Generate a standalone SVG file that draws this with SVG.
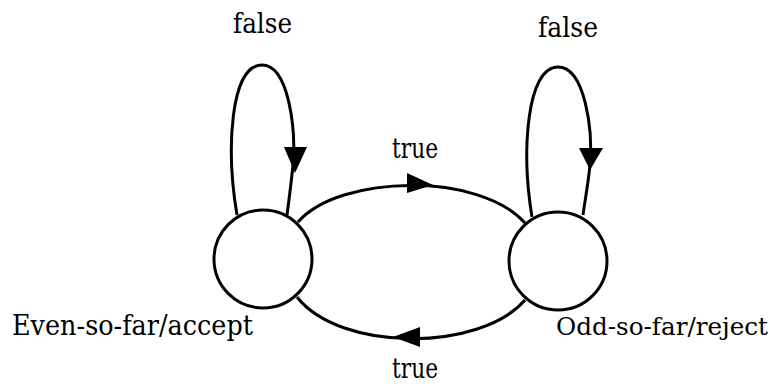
<svg xmlns="http://www.w3.org/2000/svg" width="776" height="384" viewBox="0 0 776 384">
<style>
.st{fill:#fff;stroke:#000;stroke-width:3}
.ln{fill:none;stroke:#000;stroke-width:3}
.ah{fill:#000;stroke:none}
</style>
<rect width="776" height="384" fill="#fff"/>
<g font-family="DejaVu Serif, Liberation Serif, serif" font-size="27" fill="#000">
<g id="connectors">
<path class="ln" d="M237,215 C 226,150 230,65 262,65 C 289,65 296,130 293,165 C 291,185 289,200 287,215"/>
<polygon class="ah" points="284,147 307,147 295,173"/>
<path class="ln" d="M532,217 C 521,150 527,67 558,67 C 585,67 593,130 590,165 C 588,185 585,200 583,215"/>
<polygon class="ah" points="579,148 603,148 590,170"/>
<path class="ln" d="M298,222 C 340,174 480,172 525,223"/>
<polygon class="ah" points="407,173 407,193 433,185"/>
<path class="ln" d="M297,297 C 340,352 480,352 525,300"/>
<polygon class="ah" points="420,327 420,347 393,337"/>
<text x="392" y="158" textLength="46" lengthAdjust="spacingAndGlyphs">true</text>
<text x="392" y="378" textLength="46" lengthAdjust="spacingAndGlyphs">true</text>
<text x="233" y="33" textLength="59" lengthAdjust="spacingAndGlyphs">false</text>
<text x="538" y="37" textLength="60" lengthAdjust="spacingAndGlyphs">false</text>
</g>
<g id="even">
<circle class="st" cx="263" cy="259" r="49"/>
<text x="12" y="335" textLength="241" lengthAdjust="spacingAndGlyphs">Even-so-far/accept</text>
</g>
<g id="odd">
<circle class="st" cx="558" cy="261" r="49"/>
<text x="556" y="335" font-size="25" textLength="212" lengthAdjust="spacingAndGlyphs">Odd-so-far/reject</text>
</g>
</g>
</svg>
